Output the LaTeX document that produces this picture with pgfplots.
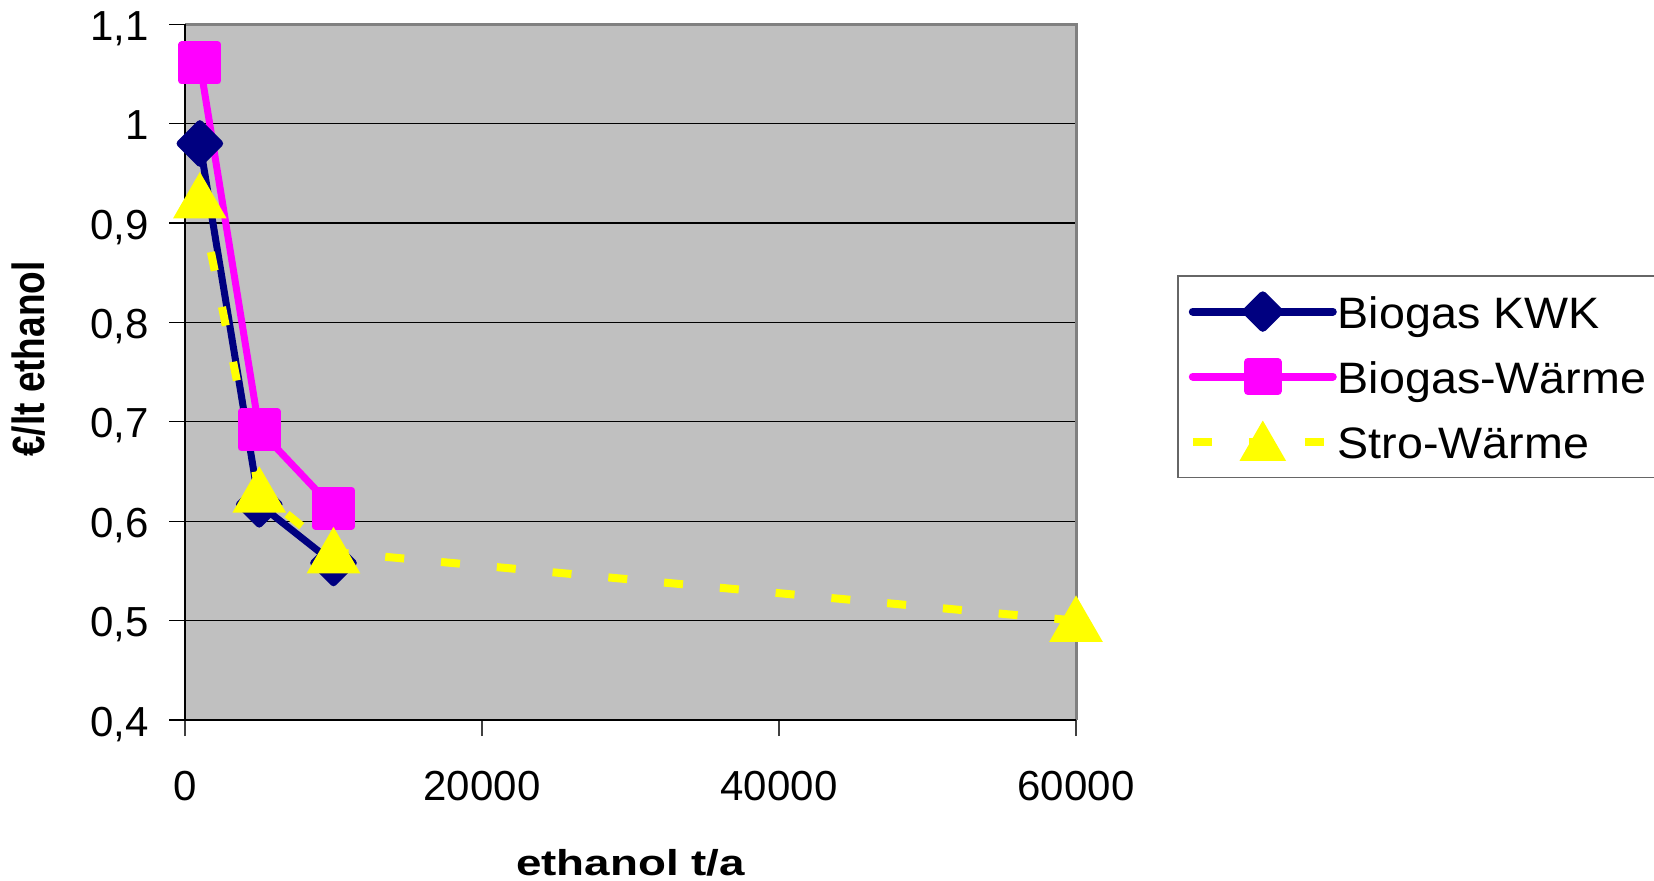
\documentclass[border=0pt]{standalone}
\usepackage{fontspec}
\setmainfont{Liberation Sans}
\usepackage{graphicx}
\usepackage{pgfplots}
\pgfplotsset{compat=1.18}
\definecolor{bggray}{HTML}{C0C0C0}
\definecolor{navyc}{HTML}{000080}
\definecolor{magc}{HTML}{FF00FF}
\definecolor{yelc}{HTML}{FFFF00}
\definecolor{framegray}{HTML}{808080}
\begin{document}
\begin{tikzpicture}
\useasboundingbox (0,0) rectangle (827pt,440pt);
\begin{axis}[
  at={(92.5pt,80pt)}, anchor=south west,
  scale only axis, width=445.5pt, height=347.9pt,
  xmin=0, xmax=60000, ymin=0.4, ymax=1.1,
  xtick={0,20000,40000,60000},
  ytick={0.4,0.5,0.6,0.7,0.8,0.9,1,1.1},
  scaled x ticks=false,
  /pgf/number format/assume math mode=true,
  x tick label style={/pgf/number format/1000 sep={}, /pgf/number format/fixed},
  y tick label style={/pgf/number format/use comma, /pgf/number format/fixed, /pgf/number format/precision=1},
  tick label style={font=\fontsize{21}{25}\selectfont},
  xticklabel style={anchor=north, inner sep=0pt, yshift=-17.5pt},
  yticklabel style={anchor=base east, inner sep=0pt, xshift=-10pt, yshift=-8pt},
  tick align=outside, xtick pos=bottom, ytick pos=left,
  major tick length=8pt,
  xtick style={black!75, line width=0.75pt},
  ytick style={black, line width=0.6pt},
  ymajorgrids, grid style={black, line width=0.6pt},
  axis background/.style={fill=bggray},
  axis line style={draw=none},
  clip=false,
  xlabel={\scalebox{1.27}[1]{\fontsize{18}{20}\selectfont\bfseries ethanol t/a}},
  ylabel={\scalebox{1}[1.22]{\fontsize{18.5}{20}\selectfont\bfseries €/lt ethanol}},
  x label style={at={(axis description cs:0.5,-0.2228)}, anchor=base},
  y label style={at={(axis description cs:-0.1751,0.5188)}, anchor=center},
  legend style={at={(axis description cs:1.1134,0.6394)}, anchor=north west,
    draw=black!60, line width=0.75pt, fill=white, inner xsep=5.5pt, inner ysep=6pt,
    font=\fontsize{22}{26}\selectfont, cells={anchor=west}, row sep=8.8pt,
    /tikz/every odd column/.append style={column sep=-1.5pt}},
  legend image code/.code={\draw[mark repeat=2,mark phase=2,#1,line width=4pt,every mark/.append style={scale=0.82}] plot coordinates {(0pt,0pt)(35pt,0pt)(70pt,0pt)};},
]
\draw[framegray, line width=1.5pt] (rel axis cs:0,1) -- (rel axis cs:1,1) -- (rel axis cs:1,0);
\draw[black, line width=1pt] (rel axis cs:0,1) -- (rel axis cs:0,0) -- (rel axis cs:1,0);

\addplot[navyc, line width=3.5pt, line cap=round, line join=round,
  mark=square*, mark size=7pt, mark options={solid, rotate=45, draw=none, fill=navyc}]
  coordinates {(1000,0.98) (5000,0.617) (10000,0.558)};
\addlegendentry{\strut\scalebox{1.06}[1]{Biogas KWK}}

\addplot[magc, line width=3.5pt, line cap=round, line join=round,
  mark=square*, mark size=9pt, mark options={solid, draw=none, fill=magc}]
  coordinates {(1000,1.061) (5000,0.692) (10000,0.613)};
\addlegendentry{\strut\scalebox{1.06}[1]{Biogas-Wärme}}

\addplot[yelc, line width=4pt, dash pattern=on 9.5pt off 18.5pt,
  mark=triangle*, mark size=11.5pt, mark options={solid, draw=none, fill=yelc, yshift=-2.9pt}]
  coordinates {(1000,0.926) (5000,0.630) (10000,0.569) (60000,0.50)};
\addlegendentry{\strut\scalebox{1.06}[1]{Stro-Wärme}}
\end{axis}
\end{tikzpicture}
\end{document}
